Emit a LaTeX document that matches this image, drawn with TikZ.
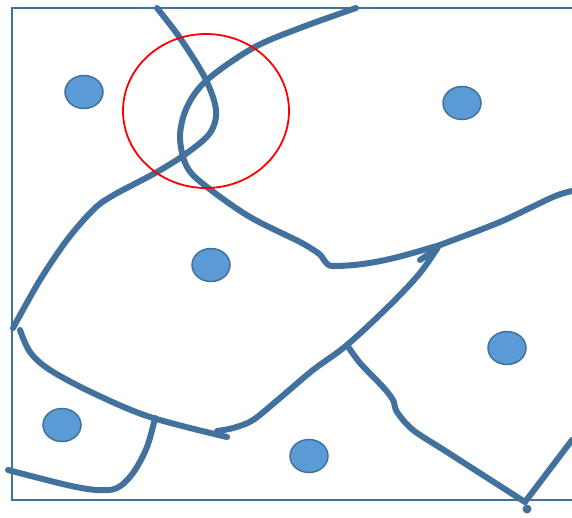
\documentclass[tikz,border=0pt]{standalone}
\usetikzlibrary{shapes.geometric}
\definecolor{bord}{HTML}{41719C}
\definecolor{dotfill}{HTML}{5B9BD5}
\tikzset{
  frame/.style={draw=bord, line width=1.8pt},
  bound/.style={draw=bord, line width=6pt, line cap=round, line join=round},
  site/.style={ellipse, draw=bord, line width=1.5pt, fill=dotfill, minimum width=38pt, minimum height=33pt, inner sep=0pt},
  ring/.style={draw=red, line width=1.8pt}
}
\begin{document}
\begin{tikzpicture}[x=1pt,y=-1pt]
\useasboundingbox (0,0) rectangle (572,517);
\clip (0,0) rectangle (572,517);
% frame
\draw[frame] (580,8) -- (12,8) -- (12,500) -- (580,500);
% sites
\node[site] (s1) at (84,92) {};
\node[site] (s2) at (462,103) {};
\node[site] (s3) at (211,265) {};
\node[site] (s4) at (507,348) {};
\node[site] (s5) at (62,425) {};
\node[site] (s6) at (309,456) {};
% boundaries
\draw[bound] plot[smooth, tension=0.55] coordinates {(157,8) (180,38) (205,78) (216,110) (210,133) (187,153) (157,172) (112,196) (93,210) (67,240) (40,280) (13,328)};
\draw[bound] plot[smooth, tension=0.55] coordinates {(356,8) (300,28) (253,48) (207,80) (187,107) (180,137) (187,167) (207,187) (250,217) (300,242) (318,253)};
\draw[bound] (318,253) .. controls (325,258) and (324,265) .. (332,266) .. controls (370,266) and (400,257) .. (440,245);
\draw[bound] plot[smooth, tension=0.5] coordinates {(440,245) (500,222) (553,197) (572,191)};
\draw[bound] plot[smooth, tension=0.55] coordinates {(438,247) (420,273) (390,305) (347,345) (313,370) (280,398) (253,420) (233,428) (217,431)};
\draw[bound] (437,249) -- (420,260);
\draw[bound] plot[smooth, tension=0.55] coordinates {(20,330) (30,352) (50,370) (93,393) (150,417) (227,437)};
\draw[bound] plot[smooth, tension=0.55] coordinates {(155,418) (147,447) (133,473) (117,488) (97,490) (67,485) (8,470)};
\draw[bound] plot[smooth, tension=0.5] coordinates {(347,345) (360,363) (383,387) (393,400) (397,412) (413,430) (447,452) (525,502)};
\draw[bound] (525,502) -- (572,440);
\fill[bord] (527,509) circle (4.5pt);
% highlighted region
\draw[ring] (206,111) ellipse (83pt and 77pt);
\end{tikzpicture}
\end{document}
